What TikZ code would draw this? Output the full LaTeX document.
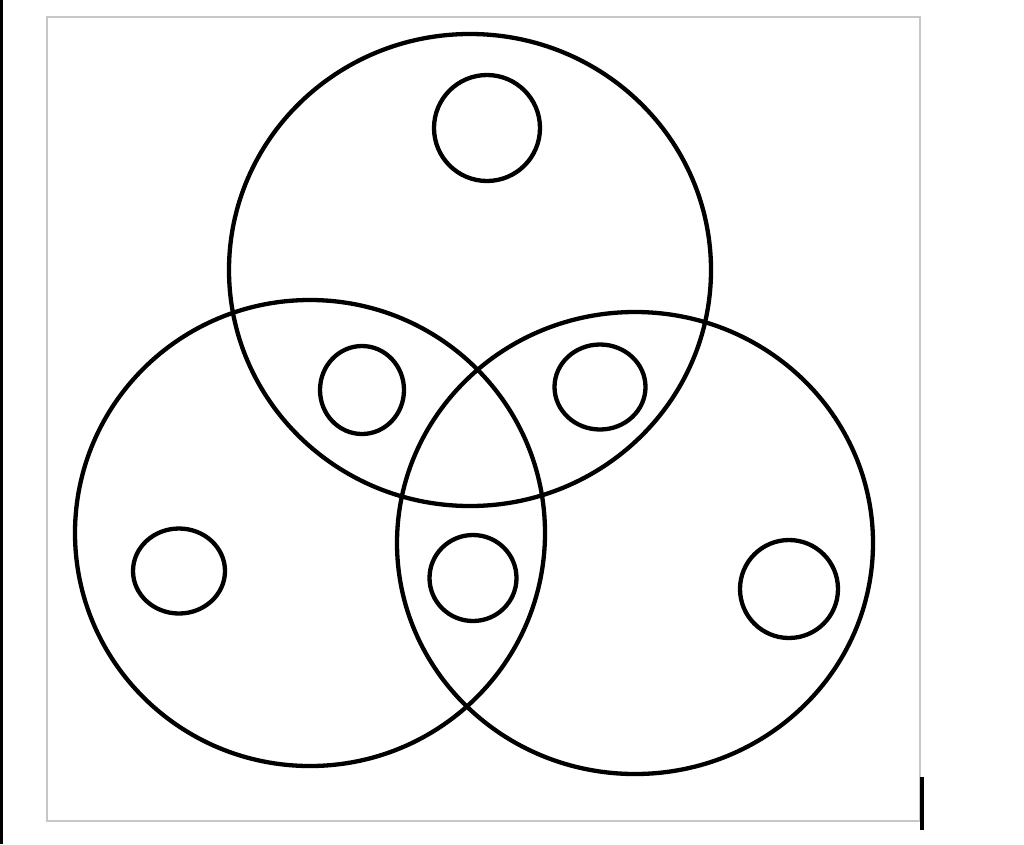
\documentclass[tikz,border=0pt]{standalone}
\usetikzlibrary{shapes.geometric}
\begin{document}
\begin{tikzpicture}[x=1pt,y=-1pt,
  ring/.style={ellipse,draw=black,line width=4.3pt,inner sep=0pt,outer sep=0pt},
  frame/.style={draw=black!22,line width=1.8pt}]
\useasboundingbox (0,0) rectangle (1024,844);
\fill[black] (0,0) rectangle (3,844);
\draw[frame] (47,17) rectangle (920,821);
\coordinate (m1) at (922,777);
\coordinate (m2) at (922,830);
\draw[black,line width=4pt] (m1) -- (m2);
% big circles
\node[ring,minimum width=482pt,minimum height=472pt] (top) at (470,270) {};
\node[ring,minimum width=470pt,minimum height=466pt] (left) at (310,533) {};
\node[ring,minimum width=476pt,minimum height=462pt] (right) at (635,543) {};
% small circles
\node[ring,minimum width=106pt,minimum height=106pt] (stop) at (487,128) {};
\node[ring,minimum width=84pt,minimum height=88pt] (stl) at (362,390) {};
\node[ring,minimum width=91pt,minimum height=85pt] (str) at (600,387) {};
\node[ring,minimum width=87pt,minimum height=86pt] (sc) at (473,578) {};
\node[ring,minimum width=92pt,minimum height=85pt] (sl) at (179,571) {};
\node[ring,minimum width=98pt,minimum height=98pt] (sr) at (789,589) {};
\end{tikzpicture}
\end{document}
